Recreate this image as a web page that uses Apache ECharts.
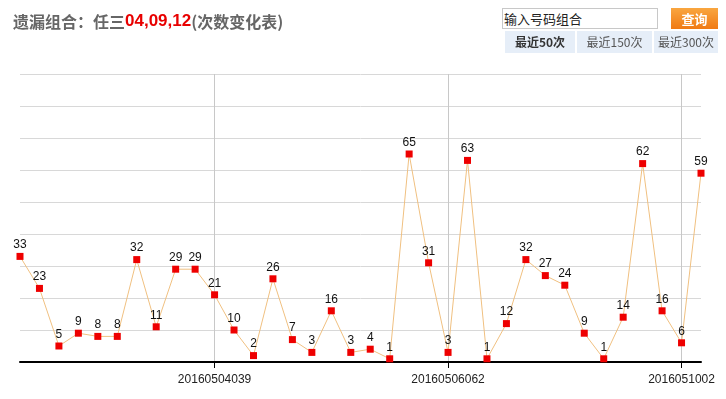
<!DOCTYPE html>
<html><head><meta charset="utf-8">
<script src="https://cdn.jsdelivr.net/npm/echarts@6/dist/echarts.min.js"></script>
<style>
html,body{margin:0;padding:0;background:#fff;}
#wrap{position:relative;width:726px;height:399px;overflow:hidden;}
#chart{position:absolute;left:0;top:0;width:726px;height:399px;}
.ctl{position:absolute;font-family:"Noto Sans CJK SC",sans-serif;box-sizing:border-box;}
#inp{left:502px;top:8px;width:156px;height:21px;border:1px solid #c8c8c8;background:#fff;font-size:13px;line-height:19px;color:#222;padding-left:1px;}
#btn{left:671px;top:8px;width:47px;height:21px;background:linear-gradient(#f9a640,#f07a14);color:#fff;font-weight:bold;font-size:13px;line-height:21px;text-align:center;}
.tab{top:31px;height:22px;background:#e6eef8;color:#555;font-size:12px;line-height:22px;text-align:center;}
</style></head>
<body><div id="wrap"><div id="chart"></div>
<div class="ctl" id="inp">输入号码组合</div>
<div class="ctl" id="btn">查询</div>
<div class="ctl tab" style="left:505px;width:70px;font-weight:bold;color:#333;">最近50次</div>
<div class="ctl tab" style="left:577px;width:75px;">最近150次</div>
<div class="ctl tab" style="left:654px;width:64px;">最近300次</div>
</div>
<script>
const titlePrefix = '遗漏组合：任三';
const titleNumbers = '04,09,12';
const titleSuffix = '(次数变化表)';
const categories = ['', '', '', '', '', '', '', '', '', '', '20160504039', '', '', '', '', '', '', '', '', '', '', '', '20160506062', '', '', '', '', '', '', '', '', '', '', '', '2016051002', ''];
const values = [33, 23, 5, 9, 8, 8, 32, 11, 29, 29, 21, 10, 2, 26, 7, 3, 16, 3, 4, 1, 65, 31, 3, 63, 1, 12, 32, 27, 24, 9, 1, 14, 62, 16, 6, 59];
const labelIdx = categories.map((c, i) => c ? i : -1).filter(i => i >= 0);
const showIdx = (i) => labelIdx.indexOf(i) >= 0;

const chart = echarts.init(document.getElementById('chart'));
chart.setOption({
  animation: false,
  title: {
    left: 8, top: 8,
    text: '{a|' + titlePrefix + '}{b|' + titleNumbers + '}{a|' + titleSuffix + '}',
    textStyle: {
      rich: {
        a: {color: '#666', fontSize: 16, fontWeight: 'bold', fontFamily: 'Noto Sans CJK SC'},
        b: {color: '#e80000', fontSize: 17, fontWeight: 'bold', fontFamily: 'Arial, Liberation Sans'}
      }
    }
  },
  grid: {left: 20, right: 25, top: 74, bottom: 37, containLabel: false},
  xAxis: {
    type: 'category', boundaryGap: false, data: categories,
    axisLine: {lineStyle: {color: '#000', width: 2}},
    axisTick: {interval: (i) => showIdx(i), length: 6, lineStyle: {color: '#000'}},
    axisLabel: {interval: (i) => showIdx(i), color: '#222', fontSize: 12, fontFamily: 'Arial, Liberation Sans', margin: 12},
    splitLine: {show: true, interval: (i) => showIdx(i), lineStyle: {color: '#c8c8c8'}}
  },
  yAxis: {
    type: 'value', min: 0, max: 90, interval: 10,
    axisLine: {show: false}, axisTick: {show: false}, axisLabel: {show: false},
    splitLine: {lineStyle: {color: '#d8d8d8'}}
  },
  series: [{
    type: 'line', data: values,
    symbol: 'rect', symbolSize: 7,
    lineStyle: {color: '#f0c080', width: 1},
    itemStyle: {color: '#ee0000'},
    label: {show: true, position: 'top', distance: 2, color: '#111', fontSize: 12, fontFamily: 'Arial, Liberation Sans'}
  }]
});
</script></body></html>
